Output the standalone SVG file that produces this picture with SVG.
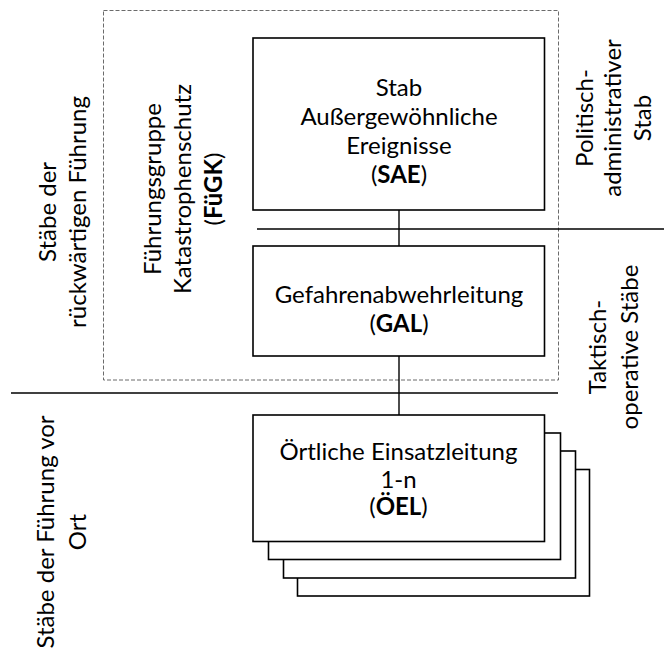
<svg xmlns="http://www.w3.org/2000/svg" width="664" height="648" viewBox="0 0 664 648">
  <style>
    .box { fill: #ffffff; stroke: #000000; stroke-width: 1.6; }
    .rule { stroke: #000000; stroke-width: 1.6; fill: none; }
    .link { stroke: #000000; stroke-width: 1.4; fill: none; }
    .group { fill: none; stroke: #6b6b6b; stroke-width: 1; stroke-dasharray: 4 2; }
    text { font-family: Lato, "Open Sans", "Liberation Sans", sans-serif; font-size: 24px; fill: #000000; text-anchor: middle; }
    .b { font-weight: bold; }
  </style>

  <!-- dashed frame of the FüGK group -->
  <g id="fuegk-group">
    <rect class="group" x="103.5" y="10.5" width="455" height="369.5"/>
    <text transform="translate(161,189) rotate(-90)">Führungsgruppe</text>
    <text transform="translate(191,189) rotate(-90)">Katastrophenschutz</text>
    <text transform="translate(222,189) rotate(-90)">(<tspan class="b">FüGK</tspan>)</text>
  </g>

  <!-- level dividers and the vertical chain -->
  <g id="connectors">
    <line class="rule" x1="257" y1="229" x2="664" y2="229"/>
    <line class="rule" x1="11" y1="393" x2="558" y2="393"/>
    <line class="link" x1="399" y1="210" x2="399" y2="246"/>
    <line class="link" x1="399" y1="356" x2="399" y2="415"/>
  </g>

  <g id="sae">
    <rect class="box" x="253" y="38" width="291.5" height="172"/>
    <text x="399" y="96">Stab</text>
    <text x="399" y="125">Außergewöhnliche</text>
    <text x="399" y="154">Ereignisse</text>
    <text x="399" y="183">(<tspan class="b">SAE</tspan>)</text>
  </g>

  <g id="gal">
    <rect class="box" x="253" y="246" width="291.5" height="110"/>
    <text x="399" y="303">Gefahrenabwehrleitung</text>
    <text x="399" y="332">(<tspan class="b">GAL</tspan>)</text>
  </g>

  <!-- stacked local command posts, back to front -->
  <g id="oel">
    <rect class="box" x="297.5" y="469.5" width="292" height="126.5"/>
    <rect class="box" x="283.5" y="451" width="292" height="127"/>
    <rect class="box" x="268.5" y="433" width="292" height="126.5"/>
    <rect class="box" x="253" y="415" width="291.5" height="126.5"/>
    <text x="398.5" y="460">Örtliche Einsatzleitung</text>
    <text x="398.5" y="487.5">1-n</text>
    <text x="398.5" y="515">(<tspan class="b">ÖEL</tspan>)</text>
  </g>

  <g id="label-rueckwaertig">
    <text transform="translate(56,212) rotate(-90)">Stäbe der</text>
    <text transform="translate(86,212) rotate(-90)">rückwärtigen Führung</text>
  </g>

  <g id="label-vor-ort">
    <text transform="translate(54,532) rotate(-90)">Stäbe der Führung vor</text>
    <text transform="translate(86,532) rotate(-90)">Ort</text>
  </g>

  <g id="label-politisch">
    <text transform="translate(593,118) rotate(-90)">Politisch-</text>
    <text transform="translate(621,118) rotate(-90)">administrativer</text>
    <text transform="translate(651,118) rotate(-90)">Stab</text>
  </g>

  <g id="label-taktisch">
    <text transform="translate(606,347) rotate(-90)">Taktisch-</text>
    <text transform="translate(638,347) rotate(-90)">operative Stäbe</text>
  </g>
</svg>
